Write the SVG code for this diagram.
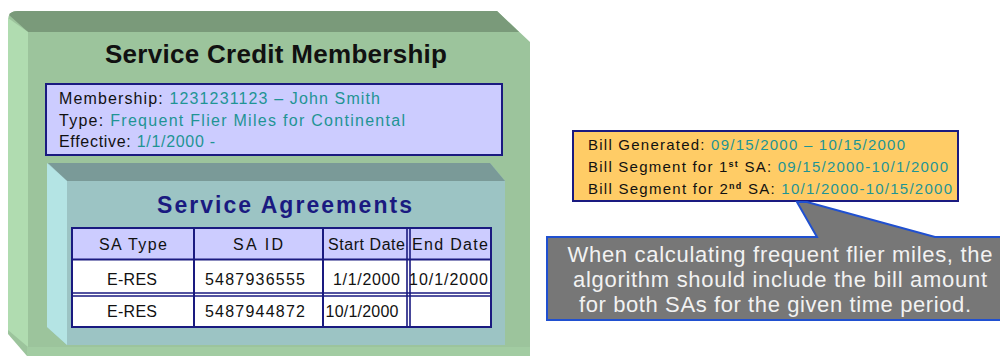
<svg xmlns="http://www.w3.org/2000/svg" width="1000" height="356" viewBox="0 0 1000 356">
<style>
  text { font-family: "Liberation Sans", Arial, sans-serif; }
  .blk { fill: #111111; }
  .teal { fill: #1f9494; }
  .title { font-weight: bold; text-anchor: middle; }
  .cell { font-size: 16px; fill: #111111; text-anchor: middle; }
  .memb { font-size: 16px; fill: #111111; }
  .bill { font-size: 15px; fill: #111111; }
  .note { font-size: 22px; fill: #f2f2f2; text-anchor: middle; }
  .nav { stroke: #1a1a80; }
</style>
<rect width="1000" height="356" fill="#ffffff"/>

<g id="service-credit-membership">
  <path d="M18,11 L497,11 L530,42 L530,350 Q530,356 524,356 L27,356 L8,334 L8,20 Q8,11 18,11 Z" fill="#9cc49c"/>
  <path d="M18,11 L497,11 L519,32 L28,32 L9,15 Q11,11 18,11 Z" fill="#7a9a7a"/>
  <path d="M8,18 L28,32 L28,347 L8,330 Z" fill="#b0dcb0"/>
  <rect x="27" y="347" width="503" height="9" fill="#a2cca2"/>
  <text class="title" x="276" y="63" font-size="26" fill="#111111" textLength="342" lengthAdjust="spacing">Service Credit Membership</text>
  <rect x="46" y="84" width="456" height="71" fill="#ccccff" stroke="#1a1a80" stroke-width="2"/>
  <text class="memb" x="59" y="104" textLength="321" lengthAdjust="spacing"><tspan class="blk">Membership: </tspan><tspan class="teal">1231231123 – John Smith</tspan></text>
  <text class="memb" x="59" y="126" textLength="346" lengthAdjust="spacing"><tspan class="blk">Type: </tspan><tspan class="teal">Frequent Flier Miles for Continental</tspan></text>
  <text class="memb" x="59" y="147" textLength="156" lengthAdjust="spacing"><tspan class="blk">Effective: </tspan><tspan class="teal">1/1/2000 -</tspan></text>
</g>

<g id="service-agreements">
  <path d="M50,163 L490,163 L505,181 L505,345 L67,345 L47,327 L47,166 Z" fill="#9cc4c4"/>
  <path d="M48,163 L490,163 L505,181 L67,181 Z" fill="#7a9a98"/>
  <path d="M47,163 L67,181 L67,345 L47,327 Z" fill="#b4e4e4"/>
  <text class="title" x="284.5" y="213" font-size="23" fill="#1a1a80" textLength="255" lengthAdjust="spacing">Service Agreements</text>
  <rect x="72" y="228" width="419" height="31" fill="#ccccff"/>
  <rect x="72" y="259" width="419" height="68" fill="#ffffff"/>
  <g class="nav" stroke-width="2" fill="none">
    <rect x="72" y="228" width="419" height="99"/>
    <line x1="72" y1="259.5" x2="491" y2="259.5"/>
    <line x1="72" y1="293" x2="491" y2="293" stroke-width="1.6"/>
    <line x1="72" y1="296" x2="491" y2="296" stroke-width="1.6"/>
    <line x1="194" y1="228" x2="194" y2="327"/>
    <line x1="323" y1="228" x2="323" y2="327"/>
    <line x1="407" y1="228" x2="407" y2="327" stroke-width="1.6"/>
    <line x1="410" y1="228" x2="410" y2="327" stroke-width="1.6"/>
  </g>
  <text class="cell" x="133" y="250" textLength="68" lengthAdjust="spacing">SA Type</text>
  <text class="cell" x="258" y="250" textLength="50" lengthAdjust="spacing">SA ID</text>
  <text class="cell" x="366.5" y="250" textLength="77" lengthAdjust="spacing">Start Date</text>
  <text class="cell" x="450" y="250" textLength="76" lengthAdjust="spacing">End Date</text>
  <text class="cell" x="132" y="285" textLength="50" lengthAdjust="spacing">E-RES</text>
  <text class="cell" x="255" y="285" textLength="100" lengthAdjust="spacing">5487936555</text>
  <text class="cell" x="366.5" y="285" textLength="67" lengthAdjust="spacing">1/1/2000</text>
  <text class="cell" x="448.5" y="285" textLength="79" lengthAdjust="spacing">10/1/2000</text>
  <text class="cell" x="132" y="317" textLength="50" lengthAdjust="spacing">E-RES</text>
  <text class="cell" x="255" y="317" textLength="100" lengthAdjust="spacing">5487944872</text>
  <text class="cell" x="362" y="317" textLength="73" lengthAdjust="spacing">10/1/2000</text>
</g>

<g id="bill">
  <rect x="573" y="131" width="385" height="70" fill="#ffcc66" stroke="#1a1a80" stroke-width="2"/>
  <text class="bill" x="588" y="150" textLength="317" lengthAdjust="spacing"><tspan class="blk">Bill Generated: </tspan><tspan class="teal">09/15/2000 – 10/15/2000</tspan></text>
  <text class="bill" x="588" y="172" textLength="360" lengthAdjust="spacing"><tspan class="blk">Bill Segment for 1</tspan><tspan class="blk" font-size="9" font-weight="bold" dy="-5">st</tspan><tspan class="blk" dy="5"> SA: </tspan><tspan class="teal">09/15/2000-10/1/2000</tspan></text>
  <text class="bill" x="588" y="194" textLength="364" lengthAdjust="spacing"><tspan class="blk">Bill Segment for 2</tspan><tspan class="blk" font-size="9" font-weight="bold" dy="-5">nd</tspan><tspan class="blk" dy="5"> SA: </tspan><tspan class="teal">10/1/2000-10/15/2000</tspan></text>
</g>

<g id="callout">
  <path d="M547,237 L817,237 L797,202 L807,202 L935,237 L1001,237 L1001,320 L547,320 Z" fill="#777777" stroke="#2050d0" stroke-width="2"/>
  <text class="note" x="780" y="262" textLength="425" lengthAdjust="spacing">When calculating frequent flier miles, the</text>
  <text class="note" x="780" y="287" textLength="414" lengthAdjust="spacing">algorithm should include the bill amount</text>
  <text class="note" x="775" y="312" textLength="392" lengthAdjust="spacing">for both SAs for the given time period.</text>
</g>

<g id="connectors"></g>
</svg>
